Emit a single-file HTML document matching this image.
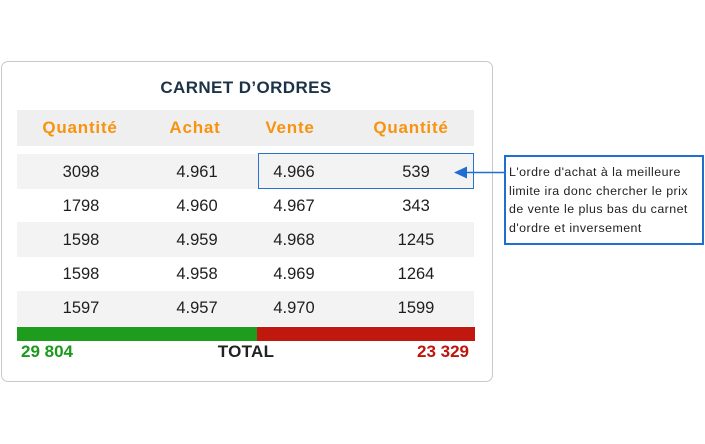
<!DOCTYPE html>
<html><head><meta charset="utf-8"><style>
html,body{margin:0;padding:0;background:#fff;}
body{width:705px;height:444px;position:relative;overflow:hidden;font-family:"Liberation Sans",sans-serif;}
.a{position:absolute;}
.card{left:1px;top:61px;width:490px;height:319px;border:1.5px solid #c9c9c9;border-radius:7px;box-sizing:content-box;}
.title{left:0;width:492px;top:78px;text-align:center;font-weight:bold;font-size:17px;color:#1c3347;letter-spacing:0.4px;line-height:20px;}
.hdr{left:17px;top:110px;width:457px;height:36px;background:#efefef;}
.ht{top:118px;line-height:20px;font-weight:bold;font-size:17px;color:#f7930f;text-align:center;width:120px;letter-spacing:0.8px;}
.row{left:17px;width:457px;height:35px;background:#f3f3f3;}
.n{line-height:20px;font-size:16.5px;color:#1e1e1e;text-align:center;width:100px;}
.bar{top:327px;height:14px;}
.tot{top:342px;line-height:20px;font-weight:bold;font-size:17px;}
.hl{left:258px;top:153px;width:216px;height:36px;border:1px solid #2a72d0;box-sizing:border-box;}
.call{left:504px;top:155px;width:200px;height:90px;border:2px solid #1f6fd1;box-sizing:border-box;}
.ct{left:509px;top:163px;font-size:12.4px;line-height:18.6px;color:#222;white-space:nowrap;letter-spacing:0.45px;}
</style></head><body>
<div class="a card"></div>
<div class="a title">CARNET D’ORDRES</div>
<div class="a hdr"></div>
<div class="a ht" style="left:20px">Quantité</div>
<div class="a ht" style="left:135px">Achat</div>
<div class="a ht" style="left:230px">Vente</div>
<div class="a ht" style="left:351px">Quantité</div>

<div class="a row" style="top:154px"></div>
<div class="a row" style="top:222px"></div>
<div class="a row" style="top:291px"></div>

<div class="a n" style="left:31px;top:162px">3098</div>
<div class="a n" style="left:147px;top:162px">4.961</div>
<div class="a n" style="left:244px;top:162px">4.966</div>
<div class="a n" style="left:366px;top:162px">539</div>

<div class="a n" style="left:31px;top:196px">1798</div>
<div class="a n" style="left:147px;top:196px">4.960</div>
<div class="a n" style="left:244px;top:196px">4.967</div>
<div class="a n" style="left:366px;top:196px">343</div>

<div class="a n" style="left:31px;top:230px">1598</div>
<div class="a n" style="left:147px;top:230px">4.959</div>
<div class="a n" style="left:244px;top:230px">4.968</div>
<div class="a n" style="left:366px;top:230px">1245</div>

<div class="a n" style="left:31px;top:264px">1598</div>
<div class="a n" style="left:147px;top:264px">4.958</div>
<div class="a n" style="left:244px;top:264px">4.969</div>
<div class="a n" style="left:366px;top:264px">1264</div>

<div class="a n" style="left:31px;top:298px">1597</div>
<div class="a n" style="left:147px;top:298px">4.957</div>
<div class="a n" style="left:244px;top:298px">4.970</div>
<div class="a n" style="left:366px;top:298px">1599</div>

<div class="a bar" style="left:17px;width:240px;background:#1e9c1e"></div>
<div class="a bar" style="left:257px;width:218px;background:#c0170f"></div>

<div class="a tot" style="left:21px;color:#1a9a1a">29 804</div>
<div class="a tot" style="left:196px;width:100px;text-align:center;color:#222;letter-spacing:0.3px">TOTAL</div>
<div class="a tot" style="left:369px;width:100px;text-align:right;color:#c0140c">23 329</div>

<div class="a hl"></div>

<svg class="a" style="left:0;top:0" width="705" height="444">
<line x1="464" y1="172.5" x2="505" y2="172.5" stroke="#1f6fd1" stroke-width="1.5"/>
<polygon points="454,172.5 467,166.5 467,178.5" fill="#1f6fd1"/>
</svg>

<div class="a call"></div>
<div class="a ct">L'ordre d'achat à la meilleure<br>limite ira donc chercher le prix<br>de vente le plus bas du carnet<br>d'ordre et inversement</div>
</body></html>
